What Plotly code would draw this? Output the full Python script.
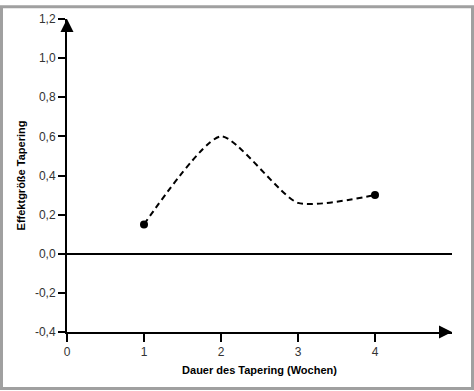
import plotly.graph_objects as go

# Data
weeks = [1, 2, 3, 4]
effect = [0.15, 0.60, 0.26, 0.30]
end_weeks = [1, 4]
end_effect = [0.15, 0.30]

x_tickvals = [0, 1, 2, 3, 4]
x_ticktext = ["0", "1", "2", "3", "4"]
y_tickvals = [-0.4, -0.2, 0.0, 0.2, 0.4, 0.6, 0.8, 1.0, 1.2]
y_ticktext = ["-0,4", "-0,2", "0,0", "0,2", "0,4", "0,6", "0,8", "1,0", "1,2"]

W, H = 474, 391
ml, mr, mt, mb = 67, 22, 14, 59
pw, ph = W - ml - mr, H - mt - mb

fig = go.Figure()
fig.add_trace(go.Scatter(
    x=weeks, y=effect, mode="lines",
    line=dict(color="black", width=2, dash="6px,4px", shape="spline", smoothing=0.6),
    hoverinfo="skip", showlegend=False,
))
fig.add_trace(go.Scatter(
    x=end_weeks, y=end_effect, mode="markers",
    marker=dict(color="black", size=8),
    cliponaxis=False, showlegend=False,
))

font_ticks = dict(family="Liberation Sans, Arial, sans-serif", size=12, color="#333333")
font_title = dict(family="Liberation Sans, Arial, sans-serif", size=11, color="black")

fig.update_layout(
    width=W, height=H,
    margin=dict(l=ml, r=mr, t=mt, b=mb),
    paper_bgcolor="white", plot_bgcolor="white",
    xaxis=dict(
        range=[0, 5], tickvals=x_tickvals, ticktext=x_ticktext,
        showgrid=False, zeroline=False, showline=True, linecolor="black", linewidth=2,
        ticks="outside", ticklen=8, tickwidth=2, tickcolor="black",
        tickfont=font_ticks,
        title=dict(text="<b>Dauer des Tapering (Wochen)</b>", font=font_title, standoff=8),
    ),
    yaxis=dict(
        range=[-0.4, 1.2], tickvals=y_tickvals, ticktext=y_ticktext,
        showgrid=False, zeroline=True, zerolinecolor="black", zerolinewidth=2,
        showline=True, linecolor="black", linewidth=2,
        ticks="outside", ticklen=7, tickwidth=2, tickcolor="black",
        tickfont=font_ticks,
        title=dict(text="<b>Effektgröße Tapering</b>", font=font_title, standoff=7),
    ),
    annotations=[
        dict(x=5, y=-0.4, xref="x", yref="y", ax=-10, ay=0, text="", showarrow=True,
             arrowhead=2, arrowsize=1.3, arrowwidth=2, arrowcolor="black", standoff=0),
        dict(x=0, y=1.2, xref="x", yref="y", ax=0, ay=10, text="", showarrow=True,
             arrowhead=2, arrowsize=1.3, arrowwidth=2, arrowcolor="black", standoff=0),
    ],
    shapes=[
        dict(type="rect", xref="paper", yref="paper", layer="above",
             x0=(-ml + 1.5) / pw, x1=(pw + mr - 1.5) / pw,
             y0=(-mb + 1.5) / ph, y1=(ph + mt - 1.5) / ph,
             line=dict(color="#a0a0a0", width=3)),
    ],
)

fig.write_html(
    "out.html",
    config={"displayModeBar": False},
    post_script="document.body.style.margin='0';document.body.style.overflow='hidden';",
)
